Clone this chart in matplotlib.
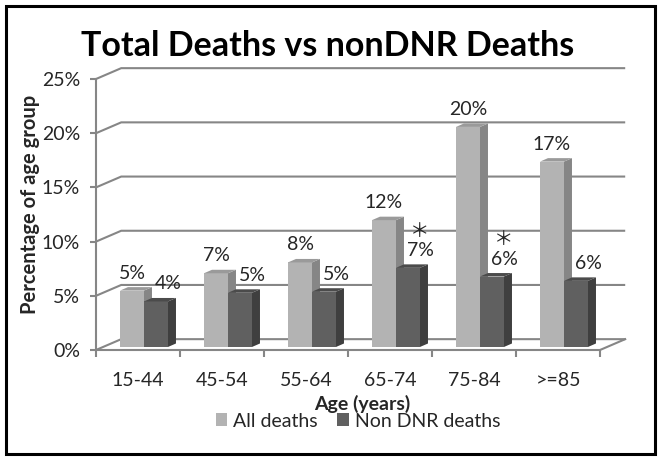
import matplotlib
matplotlib.use("Agg")
import matplotlib.pyplot as plt
from matplotlib.patches import Polygon, Patch, Rectangle

plt.rcParams['font.family'] = ['Lato', 'DejaVu Sans']

categories = ['15-44', '45-54', '55-64', '65-74', '75-84', '>=85']
all_deaths = [5.2, 6.8, 7.8, 11.7, 20.3, 17.1]
non_dnr = [4.2, 5.0, 5.1, 7.3, 6.5, 6.1]
all_labels = ['5%', '7%', '8%', '12%', '20%', '17%']
non_labels = ['4%', '5%', '5%', '7%', '6%', '6%']
starred = [False, False, False, True, True, False]
yticks = [0, 5, 10, 15, 20, 25]

W, H = 665, 461
fig = plt.figure(figsize=(W / 100, H / 100), dpi=100)
ax = fig.add_axes([96 / W, (H - 350) / H, 504 / W, 271 / H])
ax.set_xlim(0, 6)
ax.set_ylim(0, 25)

grid_c = '#868686'
txt_c = '#262626'
DX, DY = 0.30, 1.0          # depth of the walls (3d look)
bx, by = 0.095, 0.32        # depth of a bar
b0 = 0.28                   # bars stand a little behind the front edge

# back wall gridlines and the side wall diagonals
for t in yticks:
    ax.plot([0, DX, 6 + DX], [t, t + DY, t + DY], color=grid_c, lw=1.5,
            clip_on=False, zorder=1, solid_capstyle='butt')
ax.plot([6, 6 + DX], [0, DY], color=grid_c, lw=1.5, clip_on=False, zorder=1)


def bar3d(x0, w, h, front, side, top):
    y0 = b0
    y1 = b0 + h
    ax.add_patch(Polygon([(x0, y0), (x0 + w, y0), (x0 + w, y1), (x0, y1)],
                         closed=True, fc=front, ec='none', zorder=3, clip_on=False))
    ax.add_patch(Polygon([(x0 + w, y0), (x0 + w + bx, y0 + by), (x0 + w + bx, y1 + by),
                          (x0 + w, y1)], closed=True, fc=side, ec='none', zorder=3,
                         clip_on=False))
    ax.add_patch(Polygon([(x0, y1), (x0 + w, y1), (x0 + w + bx, y1 + by),
                          (x0 + bx, y1 + by)], closed=True, fc=top, ec='none', zorder=3,
                         clip_on=False))


bw = 2 / 7
px2pt = 72 / 100
for i in range(len(categories)):
    xa = i + 2 / 7
    xb = i + 4 / 7
    bar3d(xa, bw, all_deaths[i], '#b3b3b3', '#868686', '#9a9a9a')
    bar3d(xb, bw, non_dnr[i], '#606060', '#3f3f3f', '#4b4b4b')
    ax.annotate(all_labels[i], (xa + bw / 2, all_deaths[i] + b0), xytext=(0, 9 * px2pt),
                textcoords='offset points', ha='center', va='bottom', fontsize=14,
                color=txt_c, zorder=5, annotation_clip=False)
    lab = non_labels[i]
    if starred[i]:
        lab = '\uff0a\n' + lab   # fullwidth asterisk, larger and centred like the original
    ax.annotate(lab, (xb + bw / 2, non_dnr[i] + b0), xytext=(12 * px2pt, 9 * px2pt),
                textcoords='offset points', ha='center', va='bottom', fontsize=14,
                color=txt_c, zorder=5, annotation_clip=False, linespacing=1.15,
                multialignment='center', family=['Lato', 'Noto Sans CJK JP'])

for s in ['top', 'right']:
    ax.spines[s].set_visible(False)
for s in ['left', 'bottom']:
    ax.spines[s].set_color(grid_c)
    ax.spines[s].set_linewidth(1.5)
    ax.spines[s].set_zorder(2)

ax.set_yticks(yticks)
ax.set_yticklabels(['%d%%' % t for t in yticks])
ax.set_xticks(range(7))
ax.set_xticklabels([])
ax.set_xticks([i + 0.5 for i in range(6)], minor=True)
ax.set_xticklabels(categories, minor=True)
ax.tick_params(axis='y', length=6 * px2pt, width=1.5, color=grid_c, labelsize=14,
               labelcolor=txt_c, pad=10 * px2pt)
ax.tick_params(axis='x', which='major', length=7 * px2pt, width=1.5, color=grid_c)
ax.tick_params(axis='x', which='minor', length=0, labelsize=14, labelcolor=txt_c,
               pad=22 * px2pt)
ax.patch.set_visible(False)

fig.text(328 / W, 1 - 56 / H, 'Total Deaths vs nonDNR Deaths', ha='center', va='baseline',
         fontsize=24.5, fontweight='bold', color='black')
fig.text(30 / W, 1 - 204 / H, 'Percentage of age group', rotation=90, ha='center',
         va='center', fontsize=14.5, fontweight='bold', color=txt_c)
fig.text(362 / W, 1 - 404 / H, 'Age (years)', ha='center', va='center', fontsize=14,
         fontweight='bold', color=txt_c)

handles = [Patch(fc='#b3b3b3', ec='none', label='All deaths'),
           Patch(fc='#606060', ec='none', label='Non DNR deaths')]
fig.legend(handles=handles, loc='center', bbox_to_anchor=(358 / W, 1 - 421 / H), ncol=2,
           frameon=False, fontsize=14, handlelength=0.6, handleheight=0.6,
           handletextpad=0.3, columnspacing=1.0, labelcolor=txt_c)

fig.patches.append(Rectangle((6 / W, 1 - 454 / H), 649 / W, 448 / H, transform=fig.transFigure,
                             fill=False, ec='black', lw=2.2))

fig.savefig('out.png', dpi=100)
